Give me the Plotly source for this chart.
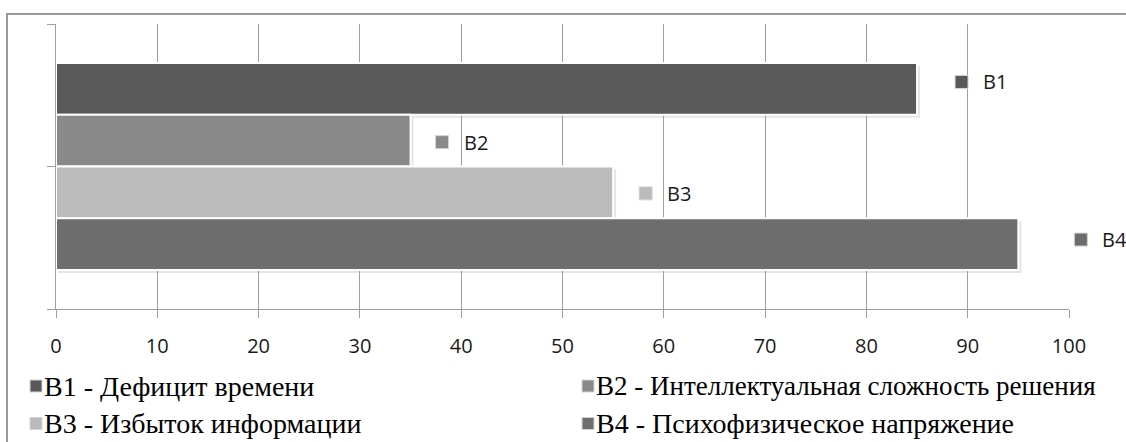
import plotly.graph_objects as go

# ---- data ----
series_names = ["В1", "В2", "В3", "В4"]
legend_labels = [
    "В1 - Дефицит времени",
    "В2 - Интеллектуальная сложность решения",
    "В3 - Избыток информации",
    "В4 - Психофизическое напряжение",
]
values = [85, 35, 55, 95]
x_ticks = [0, 10, 20, 30, 40, 50, 60, 70, 80, 90, 100]

# ---- styles ----
colors = ["#595959", "#898989", "#bbbbbb", "#6d6d6d"]
label_gap_px = [38, 25, 26, 56]      # square offset from bar end
label_dy_px = [7, -1.5, -1, 4.5]     # vertical shift of label
legend_font_sizes = [28, 27, 28, 28]
W, H = 1126, 442
ML, MR, MT, MB = 56, 57, 24, 133
PW, PH = W - ML - MR, H - MT - MB
XR = [0, 100]
YR = [0, 2]
SERIF = "Liberation Serif, Times New Roman, DejaVu Serif, serif"
UX = (XR[1] - XR[0]) / PW   # data units per pixel (x)
UY = (YR[1] - YR[0]) / PH   # data units per pixel (y)


def px(xp):
    return (xp - ML) / PW


def py(yp):
    return (H - MB - yp) / PH


pitch = 0.3628
ypos = [1 + (1.5 - i) * pitch for i in range(len(values))]

fig = go.Figure()
for i, v in enumerate(values):
    fig.add_trace(go.Bar(
        x=[v], y=[ypos[i]], width=[pitch], orientation="h",
        marker=dict(color=colors[i], line=dict(color="white", width=2)),
        name=legend_labels[i], showlegend=False,
    ))

shapes = []
annotations = []
# soft shadows under bars
for i, v in enumerate(values):
    shapes.append(dict(
        type="rect", xref="x", yref="y", layer="below",
        x0=XR[0] + 2 * UX, x1=v + 3 * UX,
        y0=ypos[i] - pitch / 2 - 3 * UY, y1=ypos[i] + pitch / 2 - 3 * UY,
        fillcolor="rgba(0,0,0,0.10)", line=dict(width=0),
    ))

# data labels with key squares (paper refs so they are not clipped)
for i, v in enumerate(values):
    g, dy = label_gap_px[i], label_dy_px[i]
    ax_ = (v - XR[0]) / (XR[1] - XR[0])
    ay_ = (ypos[i] - YR[0]) / (YR[1] - YR[0])
    shapes.append(dict(
        type="rect", xref="paper", yref="paper", xsizemode="pixel", ysizemode="pixel",
        xanchor=ax_, yanchor=ay_, x0=g, x1=g + 13, y0=dy - 6.5, y1=dy + 6.5,
        fillcolor=colors[i], line=dict(color="#d4d4d4", width=1),
    ))
    annotations.append(dict(
        x=v, y=ypos[i], xref="x", yref="y", xanchor="left", yanchor="middle",
        xshift=g + 26, yshift=dy, text=series_names[i], showarrow=False,
        font=dict(family="Open Sans", size=20, color="#1a1a1a"),
    ))

# legend (two columns)
col_x = [30, 582]
row_y = [386, 423.5]
for k, lab in enumerate(legend_labels):
    cx, cy = col_x[k % 2], row_y[k // 2]
    shapes.append(dict(
        type="rect", xref="paper", yref="paper",
        x0=px(cx), x1=px(cx + 12), y0=py(cy + 6), y1=py(cy - 6),
        fillcolor=colors[k], line=dict(color="#d4d4d4", width=1),
    ))
    annotations.append(dict(
        x=px(cx + 12), y=py(cy), xref="paper", yref="paper",
        xanchor="left", yanchor="middle", text=lab, showarrow=False,
        font=dict(family=SERIF, size=legend_font_sizes[k], color="#000000"),
    ))

# outer frame
shapes.append(dict(
    type="rect", xref="paper", yref="paper",
    x0=px(7), x1=px(1140), y0=py(460), y1=py(14),
    line=dict(color="#9a9a9a", width=2), fillcolor="rgba(0,0,0,0)", layer="below",
))

fig.update_layout(
    width=W, height=H,
    margin=dict(l=ML, r=MR, t=MT, b=MB, pad=0),
    paper_bgcolor="white", plot_bgcolor="white",
    barmode="overlay",
    showlegend=False,
    shapes=shapes, annotations=annotations,
    xaxis=dict(
        range=XR, tickvals=x_ticks, ticktext=[str(t) for t in x_ticks],
        showgrid=True, gridcolor="#9e9e9e", gridwidth=1,
        showline=True, linecolor="#9e9e9e", linewidth=1,
        ticks="outside", ticklen=8, tickcolor="#9e9e9e",
        ticklabelstandoff=11,
        zeroline=False,
        tickfont=dict(family="Open Sans", size=20, color="#1a1a1a"),
    ),
    yaxis=dict(
        range=YR, tickvals=[0, 1, 2], showticklabels=False,
        showgrid=False, zeroline=False,
        showline=True, linecolor="#9e9e9e", linewidth=1,
        ticks="outside", ticklen=8, tickcolor="#9e9e9e",
    ),
)

fig.write_html(
    "out.html",
    config={"displayModeBar": False},
    post_script="document.body.style.margin='0';document.body.style.overflow='hidden';",
)
